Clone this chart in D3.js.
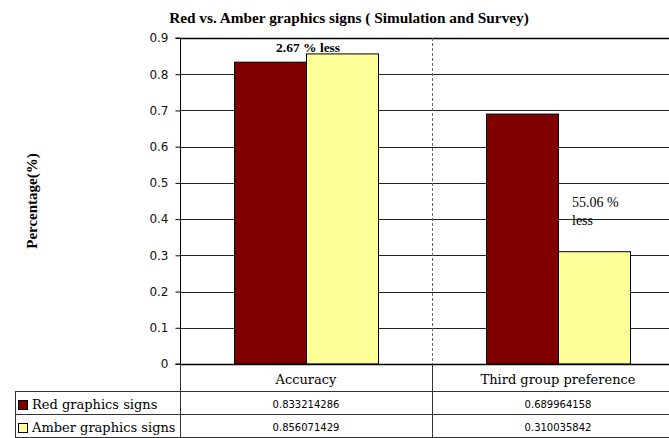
<!DOCTYPE html>
<html>
<head>
<meta charset="utf-8">
<script src="https://cdn.jsdelivr.net/npm/d3@7"></script>
<style>
  html, body { margin: 0; padding: 0; background: #fff; }
  svg { display: block; }
</style>
</head>
<body>
<svg id="chart" width="669" height="438"></svg>
<script>
// Chart data
const categories = ["Accuracy", "Third group preference"];
const seriesNames = ["Red graphics signs", "Amber graphics signs"];
const redValues = [0.833214286, 0.689964158];
const amberValues = [0.856071429, 0.310035842];
const tickValues = [0, 0.1, 0.2, 0.3, 0.4, 0.5, 0.6, 0.7, 0.8, 0.9];
const tickLabels = ["0", "0.1", "0.2", "0.3", "0.4", "0.5", "0.6", "0.7", "0.8", "0.9"];
const annotations = [
  { category: "Accuracy", lines: ["2.67 % less"] },
  { category: "Third group preference", lines: ["55.06 %", "less"] }
];

const seriesValues = [redValues, amberValues];
const seriesColors = ["#800000", "#FFFF99"];

const serif = "'Liberation Serif', 'Times New Roman', serif";
const wideSerif = "'DejaVu Serif', serif";
const sans = "'DejaVu Sans', sans-serif";

const svg = d3.select("#chart");

const plot = { left: 180, right: 684, top: 38, bottom: 364 };

const x0 = d3.scaleBand().domain(categories).range([plot.left, plot.right]).paddingInner(0).paddingOuter(0);
const x1 = d3.scaleBand().domain(seriesNames).range([0, x0.bandwidth()]).paddingInner(0).paddingOuter(0.75);
const y = d3.scaleLinear().domain([0, 0.9]).range([plot.bottom, plot.top]);

// Title
svg.append("text")
  .attr("x", 349).attr("y", 23)
  .attr("text-anchor", "middle")
  .attr("font-family", serif).attr("font-weight", "bold").attr("font-size", 15.3)
  .text("Red vs. Amber graphics signs ( Simulation and Survey)");

// Y-axis title
svg.append("text")
  .attr("transform", `translate(37,201) rotate(-90)`)
  .attr("text-anchor", "middle")
  .attr("font-family", serif).attr("font-weight", "bold").attr("font-size", 15)
  .text("Percentage(%)");

// Horizontal gridlines
svg.append("g").selectAll("line")
  .data(tickValues.filter(v => v > 0))
  .join("line")
  .attr("x1", plot.left).attr("x2", 669)
  .attr("y1", d => Math.round(y(d)) + 0.5).attr("y2", d => Math.round(y(d)) + 0.5)
  .attr("stroke", d => d === 0.9 ? "#000" : "#222")
  .attr("stroke-width", d => d === 0.9 ? 1.5 : 1);

// Dashed separator between categories
svg.append("line")
  .attr("x1", x0(categories[1]) + 0.5).attr("x2", x0(categories[1]) + 0.5)
  .attr("y1", plot.top).attr("y2", plot.bottom)
  .attr("stroke", "#666").attr("stroke-dasharray", "3,2");

// Bars
const groups = svg.append("g").selectAll("g")
  .data(categories)
  .join("g")
  .attr("transform", d => `translate(${x0(d)},0)`);

groups.selectAll("rect")
  .data((c, ci) => seriesNames.map((s, si) => ({ series: s, si, value: seriesValues[si][ci] })))
  .join("rect")
  .attr("x", d => x1(d.series) + 0.5)
  .attr("y", d => y(d.value))
  .attr("width", x1.bandwidth())
  .attr("height", d => y(0) - y(d.value))
  .attr("fill", d => seriesColors[d.si])
  .attr("stroke", "#000").attr("stroke-width", 1);

// Y axis
const yAxis = d3.axisLeft(y)
  .tickValues(tickValues)
  .tickFormat((d, i) => tickLabels[i])
  .tickSize(5).tickPadding(7);

const ya = svg.append("g")
  .attr("transform", `translate(${plot.left + 0.5},0)`)
  .call(yAxis);
ya.select(".domain").attr("stroke", "#000").attr("d", `M-5,${plot.top}H0V${plot.bottom}H-5`);
ya.selectAll(".tick line").attr("stroke", "#000");
ya.selectAll(".tick text")
  .attr("font-family", sans).attr("font-size", 12).attr("fill", "#111");

// X axis baseline
svg.append("line")
  .attr("x1", plot.left).attr("x2", 669)
  .attr("y1", plot.bottom + 0.5).attr("y2", plot.bottom + 0.5)
  .attr("stroke", "#000").attr("stroke-width", 1.5);

// Annotations
annotations.forEach((a, i) => {
  const ci = categories.indexOf(a.category);
  let ax, ay, weight, size;
  if (ci === 0) {
    ax = x0(a.category) + x1(seriesNames[1]) - 30;
    ay = y(amberValues[ci]) - 2;
    weight = "bold";
    size = 13.5;
  } else {
    ax = x0(a.category) + x1(seriesNames[1]) + 14;
    ay = y(0.44) + 2;
    weight = "normal";
    size = 14;
  }
  const t = svg.append("text")
    .attr("font-family", serif).attr("font-weight", weight).attr("font-size", size)
    .attr("fill", "#000");
  a.lines.forEach((ln, k) => {
    t.append("tspan").attr("x", ax).attr("y", ay + k * 18.3).text(ln);
  });
});

// Data table under the chart
const table = { left: 15, headerTop: plot.bottom, rowTop: 391, rowH: 23 };
const tg = svg.append("g");
const lineColor = "#333";

// header column dividers
const colEdges = [plot.left, x0(categories[1]), plot.right];
colEdges.forEach(xp => {
  tg.append("line")
    .attr("x1", Math.round(xp) + 0.5).attr("x2", Math.round(xp) + 0.5)
    .attr("y1", table.headerTop).attr("y2", table.rowTop + table.rowH * 2)
    .attr("stroke", lineColor);
});
// row lines
[0, 1, 2].forEach(k => {
  const yy = table.rowTop + k * table.rowH + 0.5;
  tg.append("line")
    .attr("x1", table.left).attr("x2", 669)
    .attr("y1", yy).attr("y2", yy)
    .attr("stroke", lineColor);
});
tg.append("line")
  .attr("x1", table.left + 0.5).attr("x2", table.left + 0.5)
  .attr("y1", table.rowTop).attr("y2", table.rowTop + table.rowH * 2)
  .attr("stroke", lineColor);

// header labels
categories.forEach(c => {
  tg.append("text")
    .attr("x", x0(c) + x0.bandwidth() / 2).attr("y", 384)
    .attr("text-anchor", "middle")
    .attr("font-family", wideSerif).attr("font-size", 13).attr("fill", "#000")
    .text(c);
});

// rows: legend key, name, values
seriesNames.forEach((s, si) => {
  const top = table.rowTop + si * table.rowH;
  tg.append("rect")
    .attr("x", 18.5).attr("y", top + 9.5)
    .attr("width", 9).attr("height", 9)
    .attr("fill", seriesColors[si]).attr("stroke", "#000");
  tg.append("text")
    .attr("x", 32).attr("y", top + 18)
    .attr("font-family", wideSerif).attr("font-size", 13).attr("fill", "#000")
    .text(s);
  categories.forEach((c, ci) => {
    tg.append("text")
      .attr("x", x0(c) + x0.bandwidth() / 2).attr("y", top + 17)
      .attr("text-anchor", "middle")
      .attr("font-family", sans).attr("font-size", 10).attr("fill", "#000")
      .text(seriesValues[si][ci]);
  });
});
</script>
</body>
</html>
